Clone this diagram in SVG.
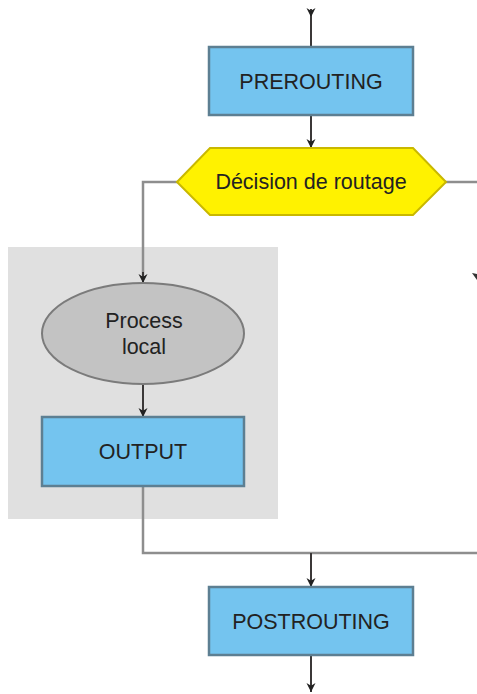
<svg xmlns="http://www.w3.org/2000/svg" width="477" height="694" viewBox="0 0 477 694">
<style>
.t{font-family:"Liberation Sans",Arial,sans-serif;font-size:21.5px;fill:#222;text-anchor:middle}
.box{fill:#74c4ef;stroke:#5d7f92;stroke-width:2.5}
.dk{stroke:#3b3838;stroke-width:2;fill:none}
.gr{stroke:#8e8e8e;stroke-width:2.5;fill:none}
</style>
<defs>
<marker id="ah" viewBox="0 0 10 10" refX="10" refY="5" markerWidth="9" markerHeight="10" markerUnits="userSpaceOnUse" orient="auto">
<path d="M0,0 L10,5 L0,10 L3,5 z" fill="#222"/>
</marker>
</defs>
<rect id="zone-local" x="8" y="247" width="270" height="272" fill="#e0e0e0"/>
<g id="connectors">
<path class="dk" d="M311,9 V17" marker-end="url(#ah)"/>
<path class="dk" d="M311,16 V47"/>
<path class="dk" d="M311,115 V148" marker-end="url(#ah)"/>
<path class="gr" d="M178,182 H143 V275"/>
<path class="dk" d="M143,272 V283" marker-end="url(#ah)"/>
<path class="gr" d="M445,182 H477"/>
<path class="dk" d="M143,384 V417" marker-end="url(#ah)"/>
<path class="gr" d="M143,486 V553 H477"/>
<path class="dk" d="M311,553 V587" marker-end="url(#ah)"/>
<path class="dk" d="M311,655 V692" marker-end="url(#ah)"/>
<path d="M472,273 L477,274 L477,280 Z" fill="#333"/>
</g>
<g id="prerouting">
<rect class="box" x="209" y="47" width="204" height="68"/>
<text class="t" x="311" y="88.5">PREROUTING</text>
</g>
<g id="decision">
<polygon points="177,182 210,148 413,148 446,182 413,215 210,215" fill="#fff200" stroke="#c9b800" stroke-width="2"/>
<text class="t" x="311" y="189">Décision de routage</text>
</g>
<g id="process-local">
<ellipse cx="143" cy="333.5" rx="101" ry="50.5" fill="#c3c3c3" stroke="#7b7b7b" stroke-width="2"/>
<text class="t" x="144" y="328">Process</text>
<text class="t" x="144" y="354">local</text>
</g>
<g id="output">
<rect class="box" x="42" y="417" width="202" height="69"/>
<text class="t" x="143" y="459">OUTPUT</text>
</g>
<g id="postrouting">
<rect class="box" x="209" y="587" width="204" height="68"/>
<text class="t" x="311" y="628.5">POSTROUTING</text>
</g>
</svg>
